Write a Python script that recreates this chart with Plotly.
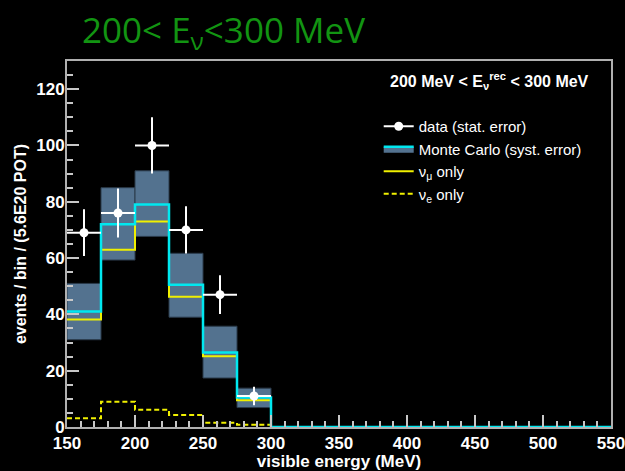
import plotly.graph_objects as go

# ---- data ----
bin_edges = [150, 175, 200, 225, 250, 275, 300, 325, 350, 375, 400, 425, 450, 475, 500, 525, 550]
bin_centers = [162.5, 187.5, 212.5, 237.5, 262.5, 287.5]
data_vals = [69, 76, 100, 70, 47, 11]
data_errs = [8.3, 8.7, 10.0, 8.4, 6.9, 3.3]
mc_vals = [41, 72, 79, 50.5, 26.5, 10.5, 0, 0, 0, 0, 0, 0, 0, 0, 0, 0]
mc_low = [31, 59.3, 67.7, 39, 17.4, 6.9]
mc_high = [51, 85, 91, 61.7, 35.8, 13.8]
numu_vals = [38.2, 63, 73, 46.3, 25.1, 9.5, 0, 0, 0, 0, 0, 0, 0, 0, 0, 0]
nue_vals = [3.1, 9.0, 6.1, 4.3, 1.5, 0.8, 0, 0, 0, 0, 0, 0, 0, 0, 0, 0]

BAND = "#53728f"
CYAN = "#00e8f0"
YEL = "#f0f000"
DASH = "5px,3px"

fig = go.Figure()

# systematic band
fig.add_trace(go.Bar(
    x=bin_centers, y=[h - l for h, l in zip(mc_high, mc_low)], base=mc_low,
    width=25, marker=dict(color=BAND, line=dict(color="#2a3a4a", width=1)),
    showlegend=False, hoverinfo="skip"))

def steps(vals):
    return vals + [vals[-1]]

fig.add_trace(go.Scatter(x=bin_edges, y=steps(nue_vals), mode="lines", line_shape="hv",
                         line=dict(color=YEL, width=2, dash=DASH), showlegend=False))
fig.add_trace(go.Scatter(x=bin_edges, y=steps(numu_vals), mode="lines", line_shape="hv",
                         line=dict(color=YEL, width=2), showlegend=False))
fig.add_trace(go.Scatter(x=bin_edges, y=steps(mc_vals), mode="lines", line_shape="hv",
                         line=dict(color=CYAN, width=2.5), showlegend=False))

# data
fig.add_trace(go.Scatter(
    x=bin_centers, y=data_vals, mode="markers",
    marker=dict(color="white", size=9),
    error_y=dict(type="data", array=data_errs, color="white", thickness=2, width=0),
    error_x=dict(type="constant", value=12.5, color="white", thickness=2, width=0),
    showlegend=False))

# legend entries
fig.add_trace(go.Scatter(x=[None], y=[None], mode="lines+markers", name="data (stat. error)",
                         line=dict(color="white", width=2), marker=dict(color="white", size=9)))
fig.add_trace(go.Scatter(x=[None], y=[None], mode="lines", name="Monte Carlo (syst. error)",
                         fill="toself", fillcolor=BAND, line=dict(color=CYAN, width=2.5)))
fig.add_trace(go.Scatter(x=[None], y=[None], mode="lines", name="ν<sub>μ</sub> only",
                         line=dict(color=YEL, width=2)))
fig.add_trace(go.Scatter(x=[None], y=[None], mode="lines", name="ν<sub>e</sub> only",
                         line=dict(color=YEL, width=2, dash=DASH)))

axis_common = dict(
    showgrid=False, zeroline=False, showline=True, linecolor="#b0b0b0", linewidth=2,
    mirror=True, ticks="inside", tickcolor="#c8c8c8", tickwidth=2, automargin=False,
    ticklabeloverflow="allow",
    tickfont=dict(family="Liberation Sans", size=17, color="white", weight="bold"),
)

fig.update_xaxes(range=[150, 550], dtick=50, tick0=150, ticklen=12,
                 minor=dict(ticks="inside", dtick=10, ticklen=6, tickcolor="#c8c8c8", tickwidth=2),
                 title=dict(text="<b>visible energy (MeV)</b>", standoff=5,
                            font=dict(family="Liberation Sans", size=17, color="white")),
                 **axis_common)
fig.update_yaxes(range=[0, 130], dtick=20, ticklen=12, ticklabelstandoff=-3,
                 minor=dict(ticks="inside", dtick=5, ticklen=6, tickcolor="#c8c8c8", tickwidth=2),
                 title=dict(text="<b>events / bin / (5.6E20 POT)</b>", standoff=6,
                            font=dict(family="Liberation Sans", size=16, color="white")),
                 **axis_common)

fig.add_annotation(text="200&lt; E<sub>ν</sub>&lt;300 MeV", xref="paper", yref="paper",
                   x=0.024, y=1.0, xanchor="left", yanchor="bottom", showarrow=False, yshift=2,
                   font=dict(family="Open Sans", size=35, color="#129412"))
fig.add_annotation(text="<b>200 MeV &lt; E<sub>ν</sub><sup>rec</sup> &lt; 300 MeV</b>",
                   xref="paper", yref="paper", x=0.963, y=0.945, xanchor="right", yanchor="middle",
                   showarrow=False, font=dict(family="Liberation Sans", size=16, color="white"))

fig.update_layout(
    width=625, height=471, paper_bgcolor="black", plot_bgcolor="black",
    margin=dict(l=67, r=14, t=61, b=44), barmode="overlay",
    legend=dict(x=0.573, y=0.866, xanchor="left", yanchor="top", bgcolor="rgba(0,0,0,0)",
                font=dict(family="Liberation Sans", size=15, color="white"),
                itemwidth=30, tracegroupgap=0),
)

fig.write_html("out.html", config={"displayModeBar": False},
               post_script="document.body.style.margin='0';document.body.style.background='black';")
